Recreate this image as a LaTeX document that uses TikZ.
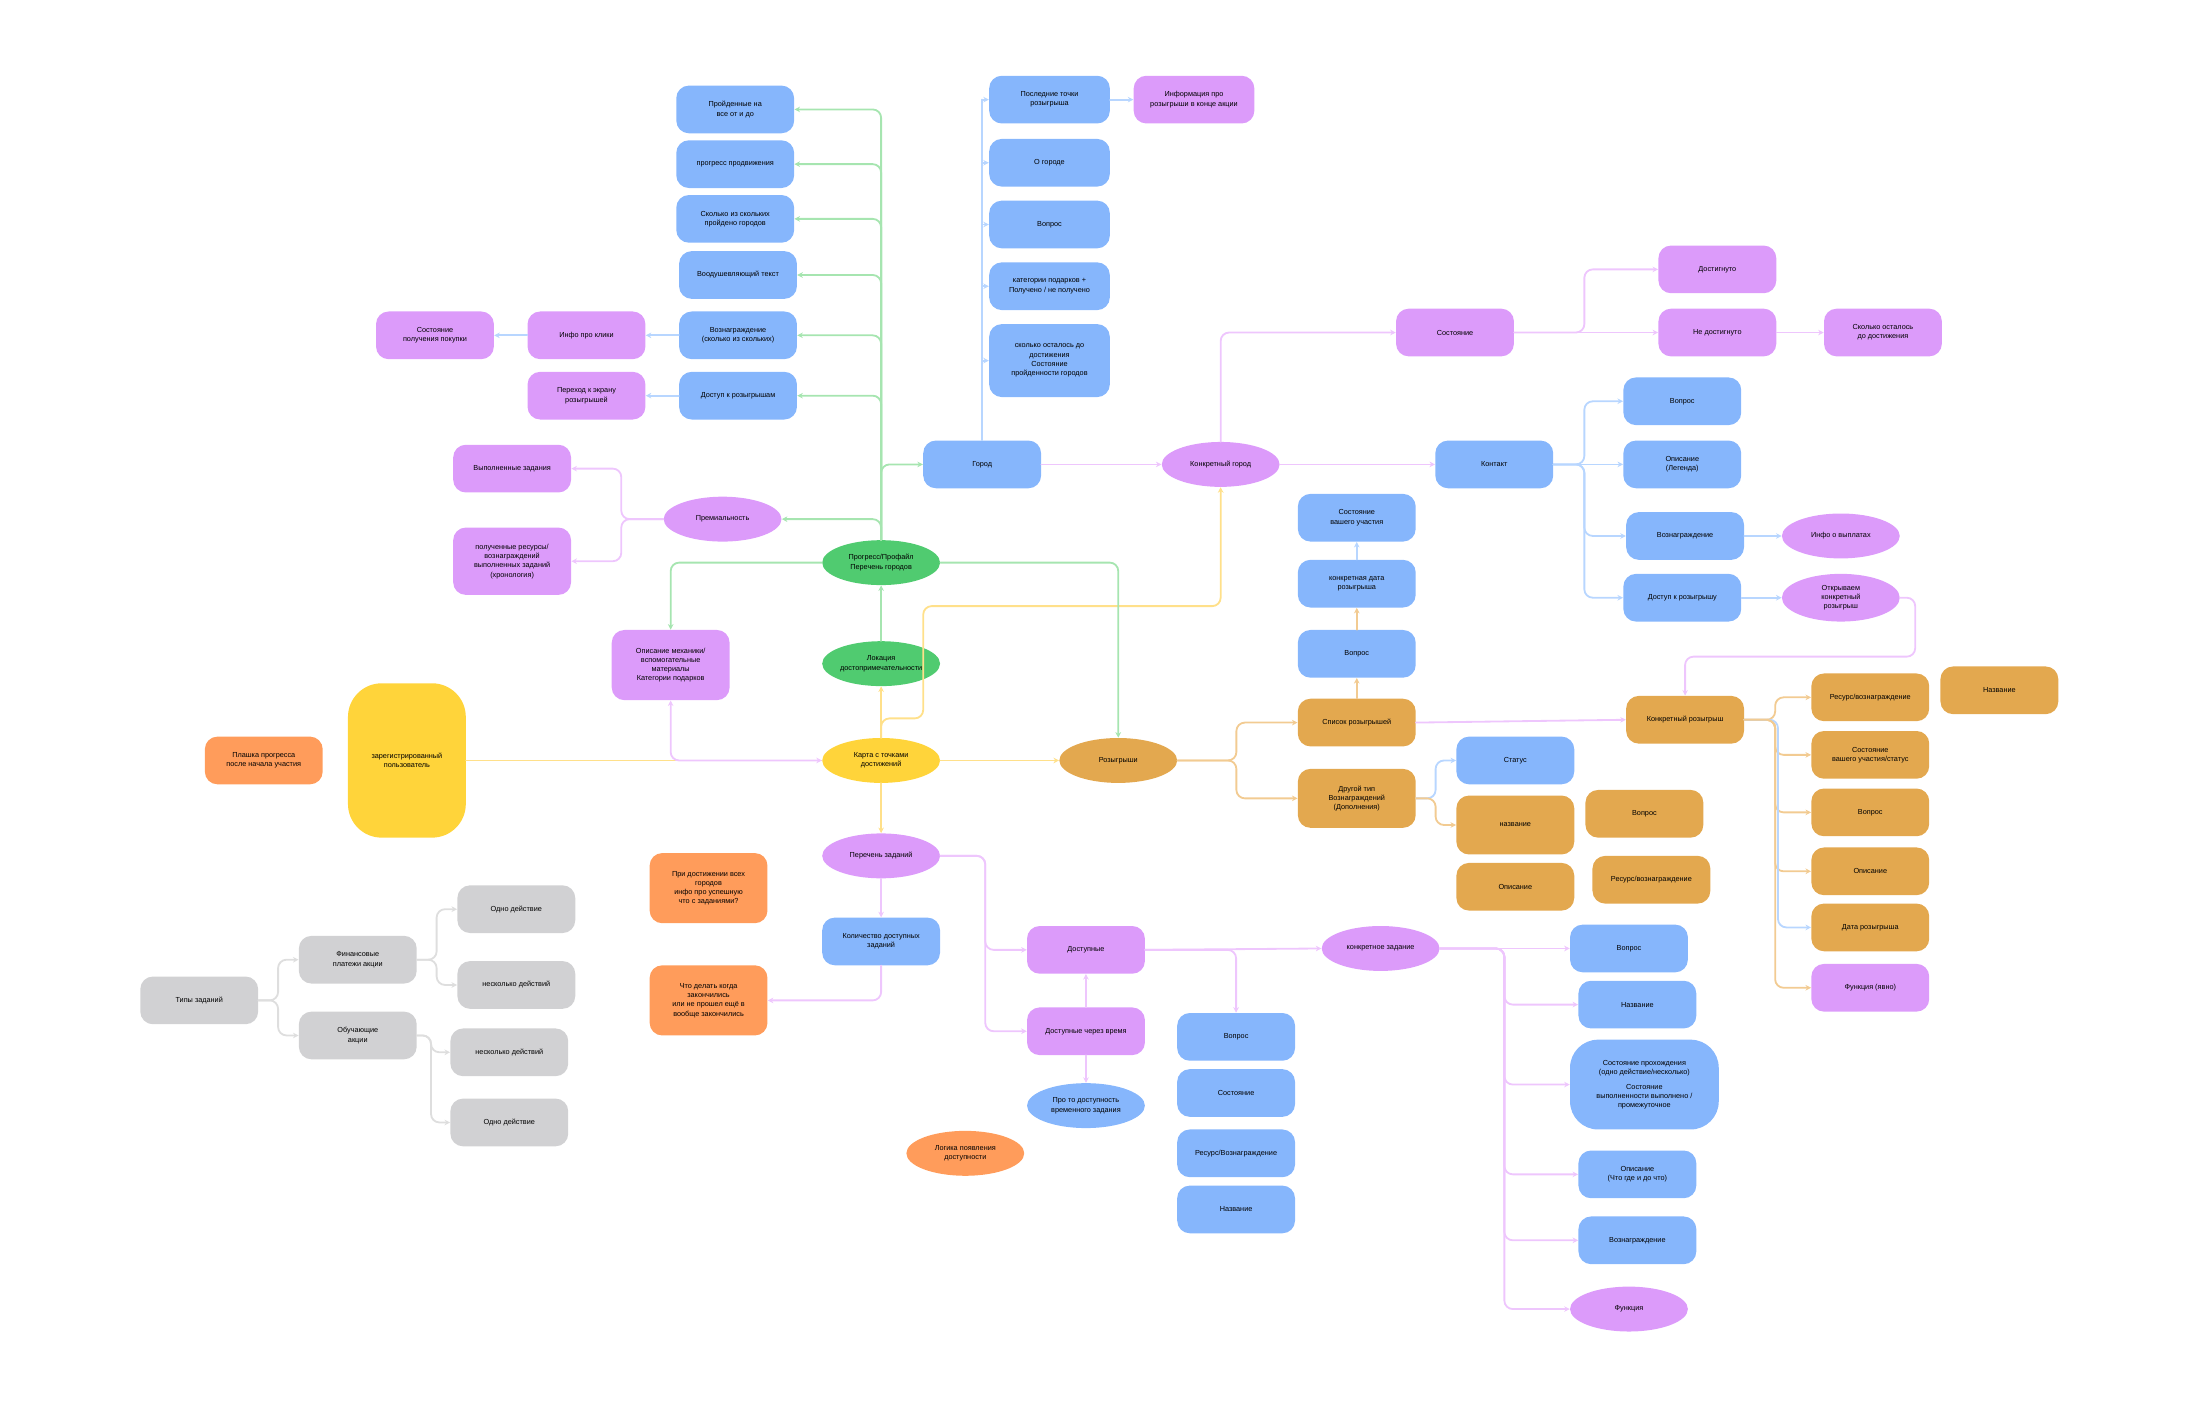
\documentclass[tikz,border=0pt]{standalone}
\usepackage{fontspec}
\setmainfont{Liberation Sans}
\usetikzlibrary{shapes.geometric,arrows.meta}
\definecolor{cblue}{HTML}{86B6FC}
\definecolor{cpurp}{HTML}{DC9BFA}
\definecolor{corng}{HTML}{FF9C5B}
\definecolor{cgold}{HTML}{E3A84F}
\definecolor{cyell}{HTML}{FFD43A}
\definecolor{cgren}{HTML}{50CB70}
\definecolor{cgrey}{HTML}{D1D1D3}
\definecolor{wgren}{HTML}{A6E5B0}
\definecolor{wblue}{HTML}{B8D6FF}
\definecolor{wpink}{HTML}{EEC6FD}
\definecolor{wyell}{HTML}{FFE08A}
\definecolor{worng}{HTML}{F2CB92}
\definecolor{wgrey}{HTML}{DEDEDE}
\begin{document}
\begin{tikzpicture}[
  x=1pt, y=-1pt,
  line cap=round, line join=round,
  >={Stealth[length=4pt,width=4pt]},
  every node/.style={inner sep=1pt, align=center, font=\fontsize{5.2pt}{6.6pt}\selectfont},
  box/.style={rectangle, rounded corners=9pt, minimum width=84pt, minimum height=34pt},
  oval/.style={ellipse, inner sep=0pt, minimum width=84pt, minimum height=32pt},
  bl/.style={fill=cblue}, pu/.style={fill=cpurp}, or/.style={fill=corng},
  go/.style={fill=cgold}, ye/.style={fill=cyell}, gn/.style={fill=cgren}, gy/.style={fill=cgrey},
  wire/.style={line width=1.3pt, rounded corners=6pt, ->},
  lg/.style={wire, draw=wgren}, lb/.style={wire, draw=wblue}, lp/.style={wire, draw=wpink},
  ly/.style={wire, draw=wyell}, lo/.style={wire, draw=worng}, lgr/.style={wire, draw=wgrey}
]
  \useasboundingbox (0,0) rectangle (1568,1006);
  % ---- центр ----
  \node[box,ye,minimum height=110pt,rounded corners=24pt] (user) at (290,542) {зарегистрированный\\пользователь};
  \node[box,or] (plashka) at (188,542) {Плашка прогресса\\после начала участия};
  \node[oval,ye] (karta) at (628,542) {Карта с точками\\достижений};
  \node[oval,gn] (lico) at (628,473) {Локация\\достопримечательности};
  \node[oval,gn] (prog) at (628,401) {Прогресс/Профайл\\Перечень городов};
  \node[box,pu,minimum height=50pt] (opis) at (478,474) {Описание механики/\\вспомогательные\\материалы\\Категории подарков};
  \node[oval,pu] (prem) at (515,370) {Премиальность};
  \node[box,pu] (vypz) at (365,334) {Выполненные задания};
  \node[box,pu,minimum height=48pt] (polr) at (365,400) {полученные ресурсы/\\вознаграждений\\выполненных заданий\\(хронология)};
  \node[oval,go] (roz) at (797,542) {Розыгрыши};
  % ---- профиль ----
  \node[box,bl] (b1) at (524,78) {Пройденные на\\все от и до};
  \node[box,bl] (b2) at (524,117) {прогресс продвижения};
  \node[box,bl] (b3) at (524,156) {Сколько из скольких\\пройдено городов};
  \node[box,bl] (b4) at (526,196) {Воодушевляющий текст};
  \node[box,bl] (b5) at (526,239) {Вознаграждение\\(сколько из скольких)};
  \node[box,bl] (b6) at (526,282) {Доступ к розыгрышам};
  \node[box,pu] (klik) at (418,239) {Инфо про клики};
  \node[box,pu] (pokup) at (310,239) {Состояние\\получения покупки};
  \node[box,pu] (perehod) at (418,282) {Переход к экрану\\розыгрышей};
  % ---- город ----
  \node[box,bl] (gorod) at (700,331) {Город};
  \node[box,bl,minimum width=86pt] (u1) at (748,71) {Последние точки\\розыгрыша};
  \node[box,bl,minimum width=86pt] (u2) at (748,116) {О городе};
  \node[box,bl,minimum width=86pt] (u3) at (748,160) {Вопрос};
  \node[box,bl,minimum width=86pt] (u4) at (748,204) {категории подарков +\\Получено / не получено};
  \node[box,bl,minimum width=86pt,minimum height=52pt] (u5) at (748,257) {сколько осталось до\\достижения\\Состояние\\пройденности городов};
  \node[box,pu,minimum width=86pt] (uinfo) at (851,71) {Информация про\\розыгрыши в конце акции};
  \node[oval,pu] (kgorod) at (870,331) {Конкретный город};
  \node[box,pu] (sost) at (1037,237) {Состояние};
  \node[box,pu] (dostig) at (1224,192) {Достигнуто};
  \node[box,pu] (nedost) at (1224,237) {Не достигнуто};
  \node[box,pu] (skolko) at (1342,237) {Сколько осталось\\до достижения};
  \node[box,bl] (kont) at (1065,331) {Контакт};
  \node[box,bl] (k1) at (1199,286) {Вопрос};
  \node[box,bl] (k2) at (1199,331) {Описание\\(Легенда)};
  \node[box,bl] (k3) at (1201,382) {Вознаграждение};
  \node[box,bl] (k4) at (1199,426) {Доступ к розыгрышу};
  \node[oval,pu] (vyplat) at (1312,382) {Инфо о выплатах};
  \node[oval,pu,minimum height=34pt] (otkr) at (1312,426) {Открываем\\конкретный\\розыгрыш};
  % ---- розыгрыши ----
  \node[box,bl] (csost) at (967,369) {Состояние\\вашего участия};
  \node[box,bl] (cdata) at (967,416) {конкретная дата\\розыгрыша};
  \node[box,bl] (cq) at (967,466) {Вопрос};
  \node[box,go] (spis) at (967,515) {Список розыгрышей};
  \node[box,go,minimum height=42pt] (drug) at (967,569) {Другой тип\\Вознаграждений\\(Дополнения)};
  \node[box,bl] (status) at (1080,542) {Статус};
  \node[box,go,minimum height=42pt] (nazv) at (1080,588) {название};
  \node[box,go] (opisz) at (1080,632) {Описание};
  \node[box,go] (voprz) at (1172,580) {Вопрос};
  \node[box,go] (resz) at (1177,627) {Ресурс/вознаграждение};
  \node[box,go] (kroz) at (1201,513) {Конкретный розыгрыш};
  \node[box,go] (r1) at (1333,497) {Ресурс/вознаграждение};
  \node[box,go] (r2) at (1333,538) {Состояние\\вашего участия/статус};
  \node[box,go] (r3) at (1333,579) {Вопрос};
  \node[box,go] (r4) at (1333,621) {Описание};
  \node[box,go] (r5) at (1333,661) {Дата розыгрыша};
  \node[box,pu] (r6) at (1333,704) {Функция (явно)};
  \node[box,go] (rnazv) at (1425,492) {Название};
  % ---- задания ----
  \node[oval,pu] (perech) at (628,610) {Перечень заданий};
  \node[box,bl] (kolvo) at (628,671) {Количество доступных\\заданий};
  \node[box,or,minimum height=50pt] (pridost) at (505,633) {При достижении всех\\городов\\инфо про успешную\\что с заданиями?};
  \node[box,or,minimum height=50pt] (chto) at (505,713) {Что делать когда\\закончились\\или не прошел ещё в\\вообще закончились};
  \node[oval,or] (logika) at (688,822) {Логика появления\\доступности};
  \node[box,pu] (dost) at (774,677) {Доступные};
  \node[box,pu] (dostv) at (774,735) {Доступные через время};
  \node[oval,bl] (proto) at (774,788) {Про то доступность\\временного задания};
  \node[box,bl] (q1) at (881,739) {Вопрос};
  \node[box,bl] (q2) at (881,779) {Состояние};
  \node[box,bl] (q3) at (881,822) {Ресурс/Вознаграждение};
  \node[box,bl] (q4) at (881,862) {Название};
  \node[oval,pu] (kzad) at (984,676) {конкретное задание};
  \node[box,bl] (z1) at (1161,676) {Вопрос};
  \node[box,bl] (z2) at (1167,716) {Название};
  \node[box,bl,minimum width=106pt,minimum height=64pt,rounded corners=20pt] (z3) at (1172,773) {Состояние прохождения\\(одно действие/несколько)\\[4pt]Состояние\\выполненности выполнено /\\промежуточное};
  \node[box,bl] (z4) at (1167,837) {Описание\\(Что где и до что)};
  \node[box,bl] (z5) at (1167,884) {Вознаграждение};
  \node[oval,pu] (z6) at (1161,933) {Функция};
  % ---- типы заданий ----
  \node[box,gy] (tipy) at (142,713) {Типы заданий};
  \node[box,gy] (fin) at (255,684) {Финансовые\\платежи акции};
  \node[box,gy] (obuch) at (255,738) {Обучающие\\акции};
  \node[box,gy] (g1) at (368,648) {Одно действие};
  \node[box,gy] (g2) at (368,702) {несколько действий};
  \node[box,gy] (g3) at (363,750) {несколько действий};
  \node[box,gy] (g4) at (363,800) {Одно действие};

  % ---- связи: центр ----
  \draw[ly,-] (user.east) -- (karta.west);
  \draw[lp,<->] (karta.west) -| (opis.south);
  \draw[ly] (karta.north) -- (lico.south);
  \draw[lg] (lico.north) -- (prog.south);
  \draw[ly] (karta.north) |- (658,512) |- (870,432) -- (kgorod.south);
  \draw[ly] (karta.east) -- (roz.west);
  \draw[ly] (karta.south) -- (perech.north);
  \draw[lg] (prog.west) -| (opis.north);
  \draw[lg] (prog.east) -| (roz.north);
  \draw[lg] (prog.north) |- (prem.east);
  \draw[lg] (prog.north) |- (b1.east);
  \draw[lg] (prog.north) |- (b2.east);
  \draw[lg] (prog.north) |- (b3.east);
  \draw[lg] (prog.north) |- (b4.east);
  \draw[lg] (prog.north) |- (b5.east);
  \draw[lg] (prog.north) |- (b6.east);
  \draw[lg] (prog.north) |- (gorod.west);
  \draw[lp] (prem.west) -- ++(-30,0) |- (vypz.east);
  \draw[lp] (prem.west) -- ++(-30,0) |- (polr.east);
  \draw[lb] (b5.west) -- (klik.east);
  \draw[lb] (klik.west) -- (pokup.east);
  \draw[lb] (b6.west) -- (perehod.east);
  % ---- связи: город ----
  \draw[lb,-] (gorod.north) -- (gorod.north |- u1.west);
  \draw[lb] (gorod.north |- u1.west) -- (u1.west);
  \draw[lb] (gorod.north |- u2.west) -- (u2.west);
  \draw[lb] (gorod.north |- u3.west) -- (u3.west);
  \draw[lb] (gorod.north |- u4.west) -- (u4.west);
  \draw[lb] (gorod.north |- u5.west) -- (u5.west);
  \draw[lb] (u1.east) -- (uinfo.west);
  \draw[lp] (gorod.east) -- (kgorod.west);
  \draw[lp] (kgorod.north) |- (sost.west);
  \draw[lp] (kgorod.east) -- (kont.west);
  \draw[lp] (sost.east) -- ++(50,0) |- (dostig.west);
  \draw[lp] (sost.east) -- (nedost.west);
  \draw[lp] (nedost.east) -- (skolko.west);
  \draw[lb] (kont.east) -- ++(22,0) |- (k1.west);
  \draw[lb] (kont.east) -- (k2.west);
  \draw[lb] (kont.east) -- ++(22,0) |- (k3.west);
  \draw[lb] (kont.east) -- ++(22,0) |- (k4.west);
  \draw[lb] (k3.east) -- (vyplat.west);
  \draw[lb] (k4.east) -- (otkr.west);
  \draw[lp] (otkr.east) -| (1365,468) -| (kroz.north);
  % ---- связи: розыгрыши ----
  \draw[lo] (roz.east) -- ++(42,0) |- (spis.west);
  \draw[lo] (roz.east) -- ++(42,0) |- (drug.west);
  \draw[lo] (spis.north) -- (cq.south);
  \draw[lo] (cq.north) -- (cdata.south);
  \draw[lb] (cdata.north) -- (csost.south);
  \draw[lb] (drug.east) -- ++(14,0) |- (status.west);
  \draw[lo] (drug.east) -- ++(14,0) |- (nazv.west);
  \draw[lp] (spis.east) -- (kroz.west);
  \draw[lo] (kroz.east) -- ++(22,0) |- (r1.west);
  \draw[lo] (kroz.east) -- ++(22,0) |- (r2.west);
  \draw[lo] (kroz.east) -- ++(22,0) |- (r3.west);
  \draw[lo] (kroz.east) -- ++(22,0) |- (r4.west);
  \draw[lb] (kroz.east) -- ++(24,0) |- (r5.west);
  \draw[lo] (kroz.east) -- ++(22,0) |- (r6.west);
  % ---- связи: задания ----
  \draw[lp] (perech.south) -- (kolvo.north);
  \draw[lp] (kolvo.south) |- (chto.east);
  \draw[lp] (perech.east) -- ++(32,0) |- (dost.west);
  \draw[lp] (perech.east) -- ++(32,0) |- (dostv.west);
  \draw[lp] (dostv.north) -- (dost.south);
  \draw[lp] (dostv.south) -- (proto.north);
  \draw[lp] (dost.east) -- (kzad.west);
  \draw[lp] (dost.east) -| (q1.north);
  \draw[lp] (kzad.east) -- (z1.west);
  \draw[lp] (kzad.east) -- ++(46,0) |- (z2.west);
  \draw[lp] (kzad.east) -- ++(46,0) |- (z3.west);
  \draw[lp] (kzad.east) -- ++(46,0) |- (z4.west);
  \draw[lp] (kzad.east) -- ++(46,0) |- (z5.west);
  \draw[lp] (kzad.east) -- ++(46,0) |- (z6.west);
  % ---- связи: типы ----
  \draw[lgr] (tipy.east) -- ++(14,0) |- (fin.west);
  \draw[lgr] (tipy.east) -- ++(14,0) |- (obuch.west);
  \draw[lgr] (fin.east) -- ++(14,0) |- (g1.west);
  \draw[lgr] (fin.east) -- ++(14,0) |- (g2.west);
  \draw[lgr] (obuch.east) -- ++(10,0) |- (g3.west);
  \draw[lgr] (obuch.east) -- ++(10,0) |- (g4.west);
\end{tikzpicture}
\end{document}
